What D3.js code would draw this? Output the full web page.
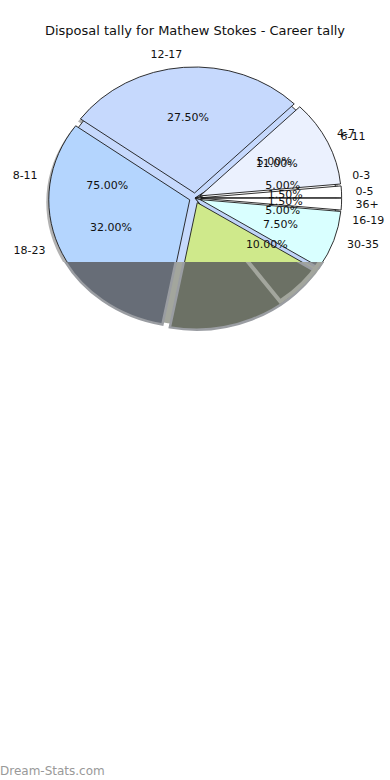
<!DOCTYPE html>
<html>
<head>
<meta charset="utf-8">
<script src="https://d3js.org/d3.v7.min.js"></script>
<style>
  html, body { margin: 0; padding: 0; background: #fff; }
  svg { display: block; }
  text { font-family: "DejaVu Sans", sans-serif; }
</style>
</head>
<body>
<svg id="chart" width="390" height="780"></svg>
<script>
// ---- data ----
const title = "Disposal tally for Mathew Stokes - Career tally";
// first pie (drawn underneath)
const catsA = ["0-3", "4-7", "8-11", "12-15", "16-19"];
const valsA = [5, 5, 75, 10, 5];
const colorsA = ["#ffffff", "#ebf1fe", "#c6d9fd", "#c0d4f8", "#ffffff"];
// second pie (drawn on top)
const catsB = ["0-5", "6-11", "12-17", "18-23", "24-29", "30-35", "36+"];
const valsB = [1.5, 11, 27.5, 32, 19, 7.5, 1.5];
const colorsB = ["#ffffff", "#ebf1fe", "#c6d9fd", "#b4d5fe", "#cfe98b", "#d9ffff", "#ffffff"];
const darkB = ["#70767c", "#6e747c", "#6a7079", "#676d77", "#6c7165", "#747a7c", "#70767c"];
const watermark = "Dream-Stats.com";

// ---- layout ----
const W = 390, H = 780;
const cx = 195, cy = 198, rx = 141, ry = 126;
const explodeA = 0.03, explodeB = 0.04;
const cutY = 262;

const svg = d3.select("#chart");
svg.append("text").attr("x", W / 2).attr("y", 30)
  .attr("text-anchor", "middle").attr("dominant-baseline", "central")
  .attr("font-size", 13).attr("fill", "#111").text(title);

const defs = svg.append("defs");
defs.append("clipPath").attr("id", "top").append("rect")
  .attr("x", 0).attr("y", 0).attr("width", W).attr("height", cutY);
defs.append("clipPath").attr("id", "bottom").append("rect")
  .attr("x", 0).attr("y", cutY).attr("width", W).attr("height", H - cutY);

// matplotlib style: start at 3 o'clock, counter-clockwise
const pie = d3.pie().sort(null).startAngle(Math.PI / 2).endAngle(Math.PI / 2 - 2 * Math.PI);
const arcsA = pie(valsA).map((d, i) => ({ ...d, cat: catsA[i], color: colorsA[i], ex: explodeA }));
const arcsB = pie(valsB).map((d, i) => ({ ...d, cat: catsB[i], color: colorsB[i], dark: darkB[i], ex: explodeB }));
const unitArc = d3.arc().innerRadius(0).outerRadius(1);
const mid = d => (d.startAngle + d.endAngle) / 2;
const pt = (d, f) => {               // point at fraction f of radius along mid angle, incl. explode
  const m = mid(d);
  return [cx + (f + d.ex) * rx * Math.sin(m), cy - (f + d.ex) * ry * Math.cos(m)];
};
const tf = (d, dx = 0, dy = 0) => {
  const m = mid(d);
  return `translate(${cx + d.ex * rx * Math.sin(m) + dx},${cy - d.ex * ry * Math.cos(m) + dy}) scale(${rx},${ry})`;
};

// ---- upper (normal) rendering ----
const gTop = svg.append("g").attr("clip-path", "url(#top)");
// shadow
gTop.append("g").selectAll("path").data(arcsB).join("path")
  .attr("d", unitArc).attr("transform", d => tf(d, -2.5, 2.5))
  .attr("fill", "#555").attr("opacity", 0.45);
function drawPie(g, arcs) {
  g.selectAll("path").data(arcs).join("path")
    .attr("d", unitArc).attr("transform", d => tf(d))
    .attr("fill", d => d.color).attr("stroke", "#1a1a1a")
    .attr("stroke-width", 0.9).attr("vector-effect", "non-scaling-stroke")
    .attr("stroke-linejoin", "round");
}
drawPie(gTop.append("g"), arcsA.map(d => ({ ...d, ex: 0 })));
drawPie(gTop.append("g"), arcsB);

// ---- lower (darkened) rendering ----
const gBot = svg.append("g").attr("clip-path", "url(#bottom)");
gBot.append("g").selectAll("path").data(arcsA).join("path")
  .attr("d", unitArc).attr("transform", d => tf({ ...d, ex: 0.035 }))
  .attr("fill", "#a3a69d").attr("stroke", "#a3a69d")
  .attr("stroke-width", 3).attr("vector-effect", "non-scaling-stroke");
gBot.append("g").selectAll("path").data(arcsB).join("path")
  .attr("d", unitArc).attr("transform", d => tf(d, -1, 1))
  .attr("fill", d => d.dark).attr("stroke", "#9a9da2")
  .attr("stroke-width", 2.5).attr("vector-effect", "non-scaling-stroke");
gBot.append("g").selectAll("path").data(arcsA.filter(d => d.cat === "12-15")).join("path")
  .attr("d", unitArc).attr("transform", d => tf({ ...d, ex: 0.02 }))
  .attr("fill", "none").attr("stroke", "#a3a69d")
  .attr("stroke-width", 4).attr("vector-effect", "non-scaling-stroke");

// ---- texts (only in the upper part) ----
function drawTexts(arcs) {
  const lab = arcs.map(d => {
    const [x, y] = pt(d, 1.1);
    return { d, x, y };
  }).filter(o => o.y < cutY);
  svg.append("g").selectAll("text").data(lab).join("text")
    .attr("x", o => o.x).attr("y", o => o.y)
    .attr("text-anchor", o => (o.x > cx ? "start" : "end"))
    .attr("dominant-baseline", "central")
    .attr("font-size", 11).attr("fill", "#111").text(o => o.d.cat);
  const pct = arcs.map(d => {
    const [x, y] = pt(d, 0.6);
    return { d, x, y };
  }).filter(o => o.y < cutY);
  svg.append("g").selectAll("text").data(pct).join("text")
    .attr("x", o => o.x).attr("y", o => o.y)
    .attr("text-anchor", "middle").attr("dominant-baseline", "central")
    .attr("font-size", 11).attr("fill", "#111")
    .text(o => (o.d.value).toFixed(2) + "%");
}
drawTexts(arcsA);
drawTexts(arcsB);

svg.append("text").attr("x", 0).attr("y", 771)
  .attr("dominant-baseline", "central")
  .attr("font-size", 12).attr("fill", "#999")
  .text(watermark);
</script>
</body>
</html>
